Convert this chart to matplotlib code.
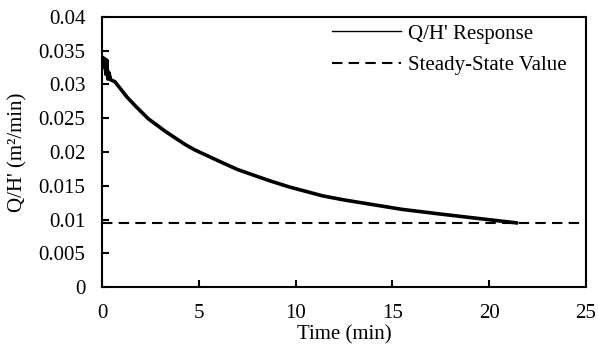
import matplotlib
matplotlib.use('Agg')
import matplotlib.pyplot as plt
from matplotlib.ticker import FuncFormatter

# values
time_min = [0.0, 0.05, 0.1, 0.15, 0.2, 0.25, 0.3, 0.35, 0.45, 0.67, 1.3, 1.8,
            2.4, 3.3, 4.3, 4.8, 6.0, 7.0, 8.0, 8.7, 9.7, 11.4, 12.5, 14.0,
            15.5, 17.5, 19.0, 20.5, 21.4]
q_over_h = [0.0330, 0.0340, 0.0325, 0.0338, 0.0315, 0.0336, 0.0308, 0.0318,
            0.0307, 0.0304, 0.0281, 0.0266, 0.0249, 0.0230, 0.0211, 0.0203,
            0.0187, 0.0174, 0.0164, 0.0157, 0.0148, 0.0135, 0.0129, 0.0122,
            0.0115, 0.0108, 0.0103, 0.0098, 0.0095]
steady_state = 0.00944
x_ticks = [0, 5, 10, 15, 20, 25]
y_ticks = [0, 0.005, 0.01, 0.015, 0.02, 0.025, 0.03, 0.035, 0.04]

plt.rcParams['font.family'] = ['Liberation Serif', 'DejaVu Serif']
fs = 15

fig = plt.figure(figsize=(5.98, 3.51), dpi=100)
ax = fig.add_axes([0.1706, 0.1823, 0.8094, 0.7693])

ax.plot(time_min, q_over_h, color='black', linewidth=2.6,
        solid_joinstyle='round', label="Q/H' Response")
ax.axhline(steady_state, color='black', linewidth=1.5, dashes=(5, 3),
           label='Steady-State Value')

ax.set_xlim(0, 25)
ax.set_ylim(0, 0.04)
ax.set_xticks(x_ticks)
ax.set_yticks(y_ticks)
ax.yaxis.set_major_formatter(FuncFormatter(lambda v, p: '%g' % v))
ax.tick_params(direction='in', length=5, width=1.5, top=False, right=False,
               labelsize=fs, pad=12)
for s in ax.spines.values():
    s.set_linewidth(1.5)

ax.set_xlabel('Time (min)', fontsize=fs, labelpad=2)
ax.set_ylabel("Q/H' (m\u00b2/min)", fontsize=fs, labelpad=8)

leg = ax.legend(loc='upper right', frameon=False, handlelength=3.3,
                labelspacing=0.55, handletextpad=0.35, fontsize=fs,
                borderpad=0.3, borderaxespad=0.5,
                bbox_to_anchor=(0.995, 1.035))
leg.get_lines()[0].set_linewidth(1.0)

fig.savefig('out.png', dpi=100)
